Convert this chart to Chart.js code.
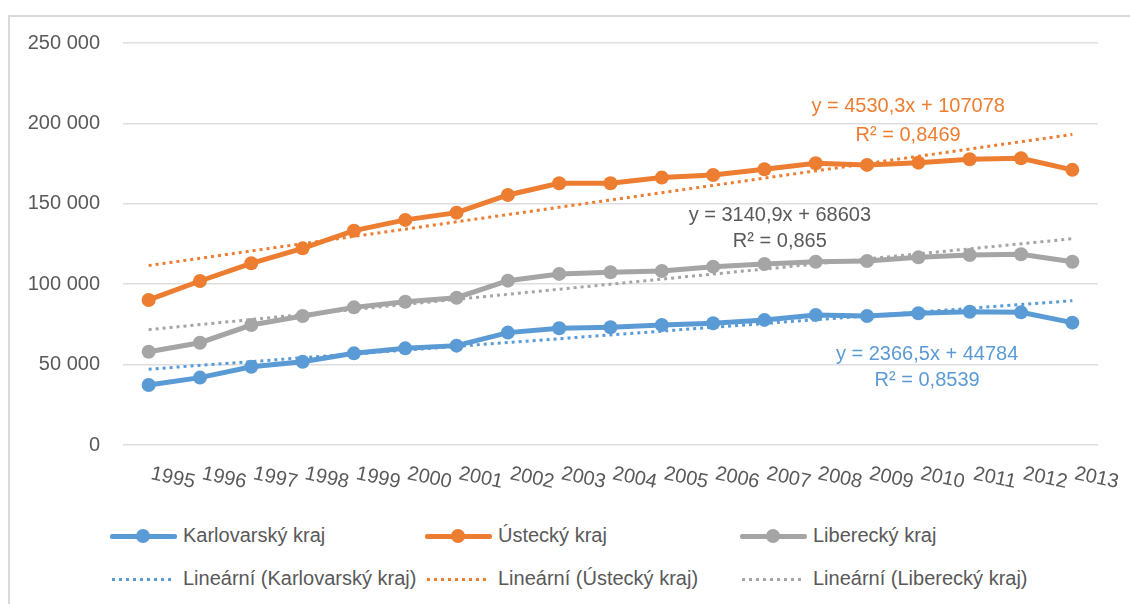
<!DOCTYPE html>
<html>
<head>
<meta charset="utf-8">
<script src="https://cdn.jsdelivr.net/npm/chart.js@4/dist/chart.umd.min.js"></script>
<style>
  html, body { margin: 0; padding: 0; background: #fff; }
  body { width: 1130px; height: 604px; position: relative; overflow: hidden; font-family: "Liberation Sans", Arial, sans-serif; }
  #ramecek { position: absolute; left: 8px; top: 15px; width: 1140px; height: 620px; border: 2px solid #d9d9d9; box-sizing: border-box; }
  #obal { position: absolute; left: 0; top: 0; width: 1130px; height: 510px; }
  #legenda { position: absolute; left: 110px; top: 514px; display: grid; grid-template-columns: 315px 315px 315px; grid-auto-rows: 43px; color: #595959; font-size: 20px; }
  .polozka { display: flex; align-items: center; white-space: nowrap; }
  .vzorek { position: relative; width: 67px; height: 14px; margin-right: 6px; }
  .vzorek .cara { position: absolute; left: 0; right: 0; top: 5px; height: 5px; border-radius: 2px; }
  .vzorek .bod { position: absolute; left: 26px; top: 0; width: 14px; height: 14px; border-radius: 50%; }
  .vzorek .tecky { position: absolute; left: 0; width: 62px; top: 6px; height: 3px; }
</style>
</head>
<body>
<div id="ramecek"></div>
<div id="obal"><canvas id="graf"></canvas></div>
<div id="legenda"></div>
<script>
// roky na ose x
var roky = ["1995","1996","1997","1998","1999","2000","2001","2002","2003","2004","2005","2006","2007","2008","2009","2010","2011","2012","2013"];
var nazvy = ["Karlovarský kraj", "Ústecký kraj", "Liberecký kraj"];
var barvy = ["#5B9BD5", "#ED7D31", "#A5A5A5"];

var karlovarsky = [37300, 41900, 48700, 51800, 57000, 60100, 61800, 69900, 72600, 73200, 74600, 75700, 77800, 80900, 80200, 81900, 82900, 82500, 76100];
var ustecky = [90200, 102000, 113000, 122300, 133300, 140000, 144500, 155500, 162800, 162800, 166300, 167900, 171500, 175200, 174200, 175600, 177700, 178300, 171100];
var liberecky = [58000, 63600, 74600, 80200, 85600, 89100, 91600, 102200, 106400, 107400, 108200, 110900, 112600, 114000, 114400, 116700, 118200, 118600, 114000];

// linearni trendy - hodnoty na zacatku (1995) a na konci (2013)
var trendZacatek = [47150, 111600, 71740];
var trendKonec = [89750, 193150, 128280];

var rovnice = ["y = 2366,5x + 44784", "y = 4530,3x + 107078", "y = 3140,9x + 68603"];
var spolehlivost = ["R² = 0,8539", "R² = 0,8469", "R² = 0,865"];

var yTicky = [0, 50000, 100000, 150000, 200000, 250000];

// kam napsat rovnice (index roku, hodnota)
var popisky = [
  { x: 15.17, y1: 56600, y2: 40400 },
  { x: 14.8, y1: 210800, y2: 192200 },
  { x: 12.3, y1: 143000, y2: 126300 }
];

var rady = [karlovarsky, ustecky, liberecky];
var datasets = [];
for (let i = 0; i < 3; i++) {
  datasets.push({
    label: nazvy[i],
    data: rady[i],
    borderColor: barvy[i],
    backgroundColor: barvy[i],
    borderWidth: 5,
    pointRadius: 7,
    pointHoverRadius: 7,
    pointBorderWidth: 0,
    tension: 0,
    order: 1
  });
}
for (let i = 0; i < 3; i++) {
  datasets.push({
    label: "Lineární (" + nazvy[i] + ")",
    data: [{ x: roky[0], y: trendZacatek[i] }, { x: roky[roky.length - 1], y: trendKonec[i] }],
    borderColor: barvy[i],
    borderWidth: 3,
    borderDash: [3, 4],
    pointRadius: 0,
    fill: false,
    order: 0
  });
}

function formatCislo(v) {
  return String(v).replace(/\B(?=(\d{3})+(?!\d))/g, " ");
}

var rovnicePlugin = {
  id: "rovnice",
  afterDatasetsDraw(chart) {
    const ctx = chart.ctx;
    const sx = chart.scales.x, sy = chart.scales.y;
    ctx.save();
    ctx.font = '20px "Liberation Sans", Arial, sans-serif';
    ctx.textAlign = "center";
    ctx.textBaseline = "middle";
    for (let i = 0; i < 3; i++) {
      const px = sx.getPixelForValue(0) + popisky[i].x * (sx.getPixelForValue(1) - sx.getPixelForValue(0));
      ctx.fillStyle = i == 2 ? "#595959" : barvy[i];
      ctx.fillText(rovnice[i], px, sy.getPixelForValue(popisky[i].y1));
      ctx.fillText(spolehlivost[i], px, sy.getPixelForValue(popisky[i].y2));
    }
    ctx.restore();
  }
};

var ctx = document.getElementById("graf").getContext("2d");
var chart = new Chart(ctx, {
  type: "line",
  data: { labels: roky, datasets: datasets },
  plugins: [rovnicePlugin],
  options: {
    responsive: true,
    maintainAspectRatio: false,
    animation: false,
    layout: { padding: { top: 43, right: 32, bottom: 0, left: 0 } },
    plugins: {
      legend: { display: false },
      tooltip: { enabled: false }
    },
    scales: {
      x: {
        type: "category",
        offset: true,
        grid: { display: false, drawTicks: false },
        border: { display: false },
        afterFit: function (scale) { scale.height = 65; },
        ticks: {
          autoSkip: false,
          minRotation: -12,
          maxRotation: -12,
          labelOffset: 46,
          padding: 26,
          color: "#595959",
          font: { family: '"Liberation Sans", Arial, sans-serif', size: 20 }
        }
      },
      y: {
        min: 0,
        max: 250000,
        afterFit: function (scale) { scale.width = 123; },
        afterBuildTicks: function (scale) { scale.ticks = yTicky.map(v => ({ value: v })); },
        grid: { color: "#dedede", lineWidth: 1.5, drawTicks: false },
        border: { display: false },
        ticks: {
          padding: 23,
          color: "#595959",
          font: { family: '"Liberation Sans", Arial, sans-serif', size: 20 },
          callback: function (v) { return formatCislo(v); }
        }
      }
    }
  }
});

// legenda ve trech sloupcich
var legenda = document.getElementById("legenda");
chart.data.datasets.forEach(function (ds, i) {
  const barva = barvy[i % 3];
  let vzorek;
  if (i < 3) {
    vzorek = '<div class="vzorek"><div class="cara" style="background:' + barva + '"></div><div class="bod" style="background:' + barva + '"></div></div>';
  } else {
    vzorek = '<div class="vzorek"><div class="tecky" style="background-image:radial-gradient(circle, ' + barva + ' 1.5px, transparent 1.6px);background-size:7px 3px;background-repeat:repeat-x"></div></div>';
  }
  legenda.innerHTML += '<div class="polozka">' + vzorek + '<span>' + ds.label + '</span></div>';
});
</script>
</body>
</html>
